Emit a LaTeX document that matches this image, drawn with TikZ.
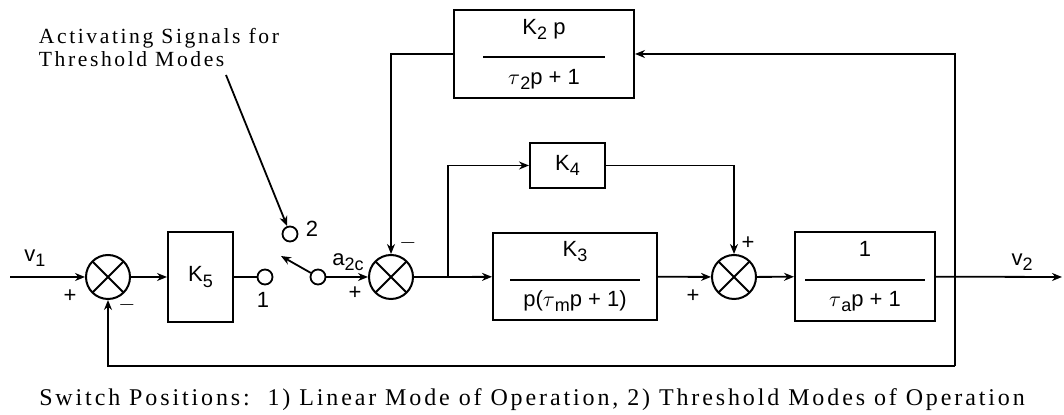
\documentclass[tikz,border=0pt]{standalone}
\usepackage{fontspec}
\setsansfont{Liberation Sans}
\newfontfamily\notefont[LetterSpace=12]{Liberation Serif}
\usetikzlibrary{arrows.meta,positioning,calc}
\newcommand{\lsub}[1]{\raisebox{-0.45ex}{\small #1}}
\newcommand{\blockfrac}[3]{\begin{tabular}{@{}c@{}}#1\\[-1pt]\rule{#3}{0.9pt}\\[0pt]#2\end{tabular}}

\begin{document}
\begin{tikzpicture}[x=0.5pt,y=-0.5pt,line width=0.9pt,
  block/.style={draw,line width=1pt,inner sep=0pt,font=\sffamily\fontsize{11}{13}\selectfont},
  sumnode/.style={draw,circle,minimum size=22pt,inner sep=0pt,line width=1pt,
    path picture={\draw[line width=1pt] (path picture bounding box.north west)--(path picture bounding box.south east)
      (path picture bounding box.north east)--(path picture bounding box.south west);}},
  contact/.style={draw,circle,minimum size=7.5pt,inner sep=0pt,line width=0.9pt},
  sign/.style={font=\sffamily\fontsize{11}{13}\selectfont,inner sep=0pt},
  arr/.style={-{Stealth[length=5pt,width=4pt]}}]
\useasboundingbox (0,0) rectangle (1064,415);
% forward path
\node[sumnode] (sum1) at (108,277) {};
\node[block,minimum width=32.5pt,minimum height=45pt] (k5) at (200.5,277) {K\lsub{5}};
\node[contact] (c1) at (265,277) {};
\node[contact] (c2) at (290,234) {};
\node[contact] (pole) at (318,277) {};
\node[sumnode] (sum2) at (391,277) {};
\node[block,minimum width=90pt,minimum height=44pt] (k2) at (544,54) {\blockfrac{K\lsub{2} p}{$\tau$\lsub{2}p + 1}{61pt}};
\node[block,minimum width=37.5pt,minimum height=22.5pt] (k4) at (567.5,165.5) {K\lsub{4}};
\node[block,minimum width=82pt,minimum height=43.5pt] (k3) at (575,276.5) {\blockfrac{K\lsub{3}}{p($\tau$\lsub{m}p + 1)}{65pt}};
\node[sumnode] (sum3) at (734,277) {};
\node[block,minimum width=70pt,minimum height=44.5pt] (ta) at (865,276.5) {\blockfrac{1}{$\tau$\lsub{a}p + 1}{60pt}};
\coordinate (vin) at (10,277);
\coordinate (br) at (448,277);
\coordinate (tap) at (955,277);
\coordinate (vout) at (1062,277);
\coordinate (bot) at (955,366);
\coordinate (swtip) at (281,256);
\coordinate (notefoot) at (226,75);
% connectors
\draw[arr] (vin) -- (sum1);
\draw[arr] (sum1) -- (k5);
\draw (k5) -- (c1);
\draw[arr] (pole) -- (swtip);
\draw[arr] (pole) -- (sum2);
\draw (sum2) -- (br);
\draw[arr] (br) -- (k3);
\draw[arr] (br) |- (k4);
\draw[arr] (k4) -| (sum3);
\draw[arr] (k3) -- (sum3);
\draw[arr] (sum3) -- (ta);
\draw[arr] (ta) -- (vout);
\draw[arr] (tap) |- (k2);
\draw (tap) -- (bot);
\draw[arr] (bot) -| (sum1);
\draw[arr] (k2) -| (sum2);
% signs and labels
\node[sign] (v1) at (35,258) {v\lsub{1}};
\node[sign] (v2) at (1022,262) {v\lsub{2}};
\node[sign] (p1) at (70,296) {+};
\node[sign] (m1) at (127,305) {$-$};
\node[sign] (p2) at (355,293) {+};
\node[sign] (m2) at (408,243) {$-$};
\node[sign] (p3) at (748,243) {+};
\node[sign] (p4) at (693,296) {+};
\node[sign] (n1) at (263,300) {1};
\node[sign] (n2) at (312,229) {2};
\node[sign] (a2c) at (348,262) {a\lsub{2c}};
\node[font=\notefont\fontsize{10.8}{11.5}\selectfont,align=left,anchor=north west,inner sep=0pt] (note) at (38,27) {Activating Signals for\\Threshold Modes};
\draw[arr] (notefoot) -- (c2.110);
\node[font=\notefont\fontsize{12}{14}\selectfont,inner sep=0pt] (caption) at (532,400) {Switch Positions:\ \ 1) Linear Mode of Operation, 2) Threshold Modes of Operation};
\end{tikzpicture}
\end{document}
